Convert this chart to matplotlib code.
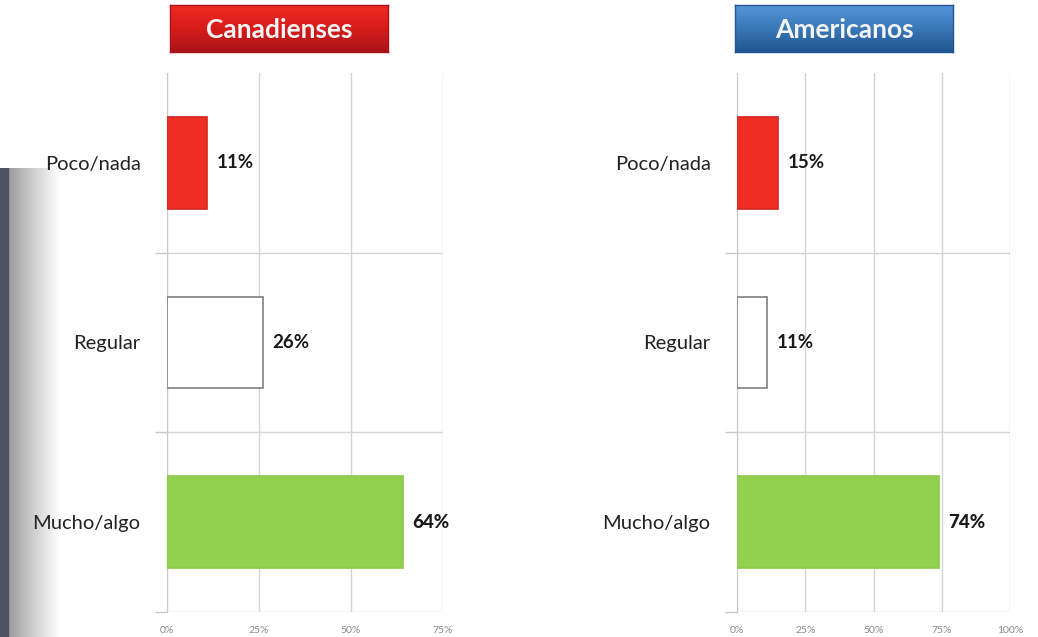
import numpy as np
import matplotlib
matplotlib.use("Agg")
import matplotlib.pyplot as plt
from matplotlib.colors import LinearSegmentedColormap

categories = ["Poco/nada", "Regular", "Mucho/algo"]
canadienses = [11, 26, 64]
americanos = [15, 11, 74]
titles = ["Canadienses", "Americanos"]
ticks_left = [0, 25, 50, 75]
ticks_right = [0, 25, 50, 75, 100]

bar_colors = ["#ee2e24", "#ffffff", "#92d050"]
edge_colors = ["#d8261e", "#7f7f7f", "#8cc84a"]

W, H = 1038, 637
fig = plt.figure(figsize=(W / 100, H / 100), dpi=100)
fig.patch.set_facecolor("white")
FONT = "Lato"


def fx(px):
    return px / W


def fy(py):
    return 1 - py / H


# left decorative shadow strip
sh = fig.add_axes([0, 0, fx(60), fy(168)])
grad = np.linspace(0.0, 1.0, 200)[None, :]
cmap_sh = LinearSegmentedColormap.from_list("sh", ["#8a8a8a", "#c8c8c8", "#ffffff"])
sh.imshow(grad, aspect="auto", cmap=cmap_sh, extent=[0, 1, 0, 1])
sh.add_patch(plt.Rectangle((0, 0), 0.13, 1, color="#4e5262", transform=sh.transAxes))
sh.axis("off")


def panel(left_px, right_px, values, xmax, ticks, title, tcols, box):
    ax = fig.add_axes([fx(left_px), fy(612), fx(right_px - left_px), (612 - 73) / H])
    y = np.arange(len(categories))
    ax.barh(y, values, height=0.51, color=bar_colors, edgecolor=edge_colors, linewidth=1.2, zorder=3)
    ax.set_ylim(2.5, -0.5)
    ax.set_xlim(0, xmax)
    ax.set_xticks(ticks)
    ax.set_xticklabels([f"{t}%" for t in ticks], fontsize=7.5, color="#888888", family=FONT)
    ax.tick_params(axis="x", length=0, pad=10)
    ax.set_yticks(y)
    ax.set_yticklabels(categories, fontsize=14.5, color="#222222", family=FONT)
    ax.tick_params(axis="y", which="major", length=0, pad=19)
    ax.set_yticks([0.5, 1.5, 2.5], minor=True)
    ax.tick_params(axis="y", which="minor", length=9, color="#c8c8c8", width=1)
    ax.grid(axis="x", color="#d4d4d4", linewidth=1, zorder=0)
    ax.grid(axis="y", which="minor", color="#d4d4d4", linewidth=1, zorder=0)
    for s in ["top", "right", "bottom"]:
        ax.spines[s].set_visible(False)
    ax.spines["left"].set_color("#c8c8c8")
    for i, v in enumerate(values):
        ax.text(v + xmax * 0.035, i, f"{v}%", va="center", ha="left", fontsize=13.5,
                fontweight="black" if i == 2 else "bold", color="#1a1a1a", family=FONT, zorder=4)
    # title box with gradient
    bx0, bx1, by0, by1 = box
    tb = fig.add_axes([fx(bx0), fy(by1), fx(bx1 - bx0), (by1 - by0) / H])
    cm = LinearSegmentedColormap.from_list("t", tcols)
    tb.imshow(np.linspace(0, 1, 100)[:, None], aspect="auto", cmap=cm, extent=[0, 1, 0, 1])
    tb.set_xticks([])
    tb.set_yticks([])
    for s in tb.spines.values():
        s.set_color(tcols[-1])
        s.set_linewidth(1)
    tb.text(0.5, 0.47, title, ha="center", va="center", color="#f4f4f4", fontsize=19,
            fontweight="bold", family=FONT, transform=tb.transAxes)
    return ax


panel(167, 443, canadienses, 75, ticks_left, titles[0], ["#ee2a22", "#d81c1a", "#a8141a"], (170, 388, 5, 52))
panel(737, 1010, americanos, 100, ticks_right, titles[1], ["#5496d6", "#3a78b8", "#1f5590"], (735, 953, 5, 52))

fig.savefig("out.png", dpi=100, facecolor="white")
